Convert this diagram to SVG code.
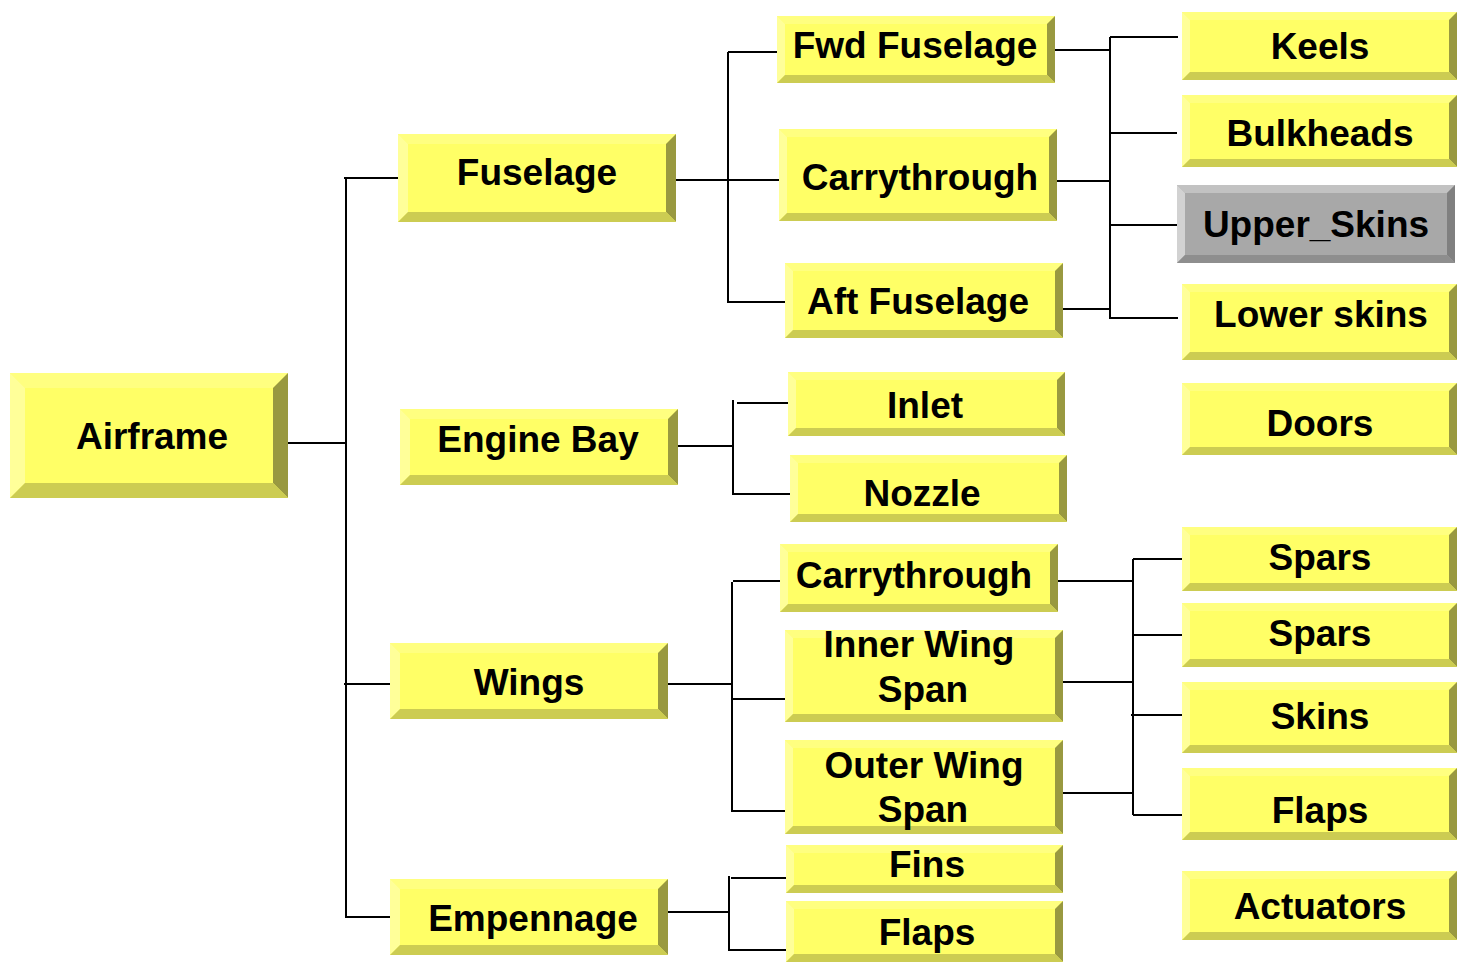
<svg xmlns="http://www.w3.org/2000/svg" width="1457" height="962" viewBox="0 0 1457 962">
<style>
.f{fill:#FFFF66}.t{fill:#FFFF80}.l{fill:#FFFF99}.r{fill:#999940}.b{fill:#CCCC52}
.gf{fill:#A8A8A8}.gt{fill:#C2C2C2}.gl{fill:#D2D2D2}.gr{fill:#808080}.gb{fill:#8E8E8E}
text{font-family:"Liberation Sans",Arial,sans-serif;font-weight:bold;font-size:37px;text-anchor:middle;fill:#000}
.c line{stroke:#000;stroke-width:2}
</style>
<rect width="1457" height="962" fill="#fff"/>
<g class="c" id="connectors">
<line x1="288" y1="443" x2="346" y2="443"/>
<line x1="346" y1="178" x2="346" y2="918"/>
<line x1="344" y1="178" x2="398" y2="178"/>
<line x1="344" y1="684" x2="390" y2="684"/>
<line x1="345" y1="917" x2="390" y2="917"/>
<line x1="676" y1="180" x2="779" y2="180"/>
<line x1="728" y1="52" x2="728" y2="303"/>
<line x1="728" y1="52" x2="777" y2="52"/>
<line x1="728" y1="302" x2="785" y2="302"/>
<line x1="678" y1="446" x2="733" y2="446"/>
<line x1="733" y1="400" x2="733" y2="493"/>
<line x1="737" y1="403" x2="788" y2="403"/>
<line x1="732" y1="494" x2="790" y2="494"/>
<line x1="668" y1="684" x2="733" y2="684"/>
<line x1="732" y1="582" x2="732" y2="812"/>
<line x1="733" y1="581" x2="780" y2="581"/>
<line x1="731" y1="699" x2="785" y2="699"/>
<line x1="731" y1="811" x2="785" y2="811"/>
<line x1="668" y1="912" x2="729" y2="912"/>
<line x1="729" y1="876" x2="729" y2="950"/>
<line x1="731" y1="878" x2="786" y2="878"/>
<line x1="728" y1="950" x2="786" y2="950"/>
<line x1="1055" y1="50" x2="1110" y2="50"/>
<line x1="1110" y1="37" x2="1110" y2="319"/>
<line x1="1110" y1="37" x2="1178" y2="37"/>
<line x1="1109" y1="133" x2="1177" y2="133"/>
<line x1="1110" y1="225" x2="1177" y2="225"/>
<line x1="1110" y1="318" x2="1178" y2="318"/>
<line x1="1057" y1="181" x2="1110" y2="181"/>
<line x1="1063" y1="309" x2="1110" y2="309"/>
<line x1="1133" y1="559" x2="1133" y2="815"/>
<line x1="1058" y1="581" x2="1133" y2="581"/>
<line x1="1133" y1="559" x2="1182" y2="559"/>
<line x1="1132" y1="635" x2="1182" y2="635"/>
<line x1="1063" y1="682" x2="1133" y2="682"/>
<line x1="1131" y1="715" x2="1182" y2="715"/>
<line x1="1063" y1="793" x2="1133" y2="793"/>
<line x1="1133" y1="815" x2="1182" y2="815"/>
</g>
<g id="airframe">
<rect class="f" x="10" y="373" width="278" height="125"/>
<polygon class="t" points="10,373 288,373 273,388 25,388"/>
<polygon class="l" points="10,373 25,388 25,483 10,498"/>
<polygon class="r" points="288,373 288,498 273,483 273,388"/>
<polygon class="b" points="10,498 25,483 273,483 288,498"/>
<text x="152" y="449">Airframe</text>
</g>
<g id="fuselage">
<rect class="f" x="398" y="134" width="278" height="88"/>
<polygon class="t" points="398,134 676,134 666,144 408,144"/>
<polygon class="l" points="398,134 408,144 408,212 398,222"/>
<polygon class="r" points="676,134 676,222 666,212 666,144"/>
<polygon class="b" points="398,222 408,212 666,212 676,222"/>
<text x="537" y="185">Fuselage</text>
</g>
<g id="engine-bay">
<rect class="f" x="400" y="409" width="278" height="76"/>
<polygon class="t" points="400,409 678,409 668,419 410,419"/>
<polygon class="l" points="400,409 410,419 410,475 400,485"/>
<polygon class="r" points="678,409 678,485 668,475 668,419"/>
<polygon class="b" points="400,485 410,475 668,475 678,485"/>
<text x="538" y="452">Engine Bay</text>
</g>
<g id="wings">
<rect class="f" x="390" y="643" width="278" height="76"/>
<polygon class="t" points="390,643 668,643 658,653 400,653"/>
<polygon class="l" points="390,643 400,653 400,709 390,719"/>
<polygon class="r" points="668,643 668,719 658,709 658,653"/>
<polygon class="b" points="390,719 400,709 658,709 668,719"/>
<text x="529" y="695">Wings</text>
</g>
<g id="empennage">
<rect class="f" x="390" y="879" width="278" height="76"/>
<polygon class="t" points="390,879 668,879 658,889 400,889"/>
<polygon class="l" points="390,879 400,889 400,945 390,955"/>
<polygon class="r" points="668,879 668,955 658,945 658,889"/>
<polygon class="b" points="390,955 400,945 658,945 668,955"/>
<text x="533" y="931">Empennage</text>
</g>
<g id="fwd-fuselage">
<rect class="f" x="777" y="16" width="278" height="67"/>
<polygon class="t" points="777,16 1055,16 1047,24 785,24"/>
<polygon class="l" points="777,16 785,24 785,75 777,83"/>
<polygon class="r" points="1055,16 1055,83 1047,75 1047,24"/>
<polygon class="b" points="777,83 785,75 1047,75 1055,83"/>
<text x="915" y="58">Fwd Fuselage</text>
</g>
<g id="carrythrough-fuselage">
<rect class="f" x="779" y="129" width="278" height="92"/>
<polygon class="t" points="779,129 1057,129 1049,137 787,137"/>
<polygon class="l" points="779,129 787,137 787,213 779,221"/>
<polygon class="r" points="1057,129 1057,221 1049,213 1049,137"/>
<polygon class="b" points="779,221 787,213 1049,213 1057,221"/>
<text x="920" y="190">Carrythrough</text>
</g>
<g id="aft-fuselage">
<rect class="f" x="785" y="263" width="278" height="75"/>
<polygon class="t" points="785,263 1063,263 1055,271 793,271"/>
<polygon class="l" points="785,263 793,271 793,330 785,338"/>
<polygon class="r" points="1063,263 1063,338 1055,330 1055,271"/>
<polygon class="b" points="785,338 793,330 1055,330 1063,338"/>
<text x="918" y="314">Aft Fuselage</text>
</g>
<g id="inlet">
<rect class="f" x="788" y="372" width="277" height="64"/>
<polygon class="t" points="788,372 1065,372 1057,380 796,380"/>
<polygon class="l" points="788,372 796,380 796,428 788,436"/>
<polygon class="r" points="1065,372 1065,436 1057,428 1057,380"/>
<polygon class="b" points="788,436 796,428 1057,428 1065,436"/>
<text x="925" y="418">Inlet</text>
</g>
<g id="nozzle">
<rect class="f" x="790" y="455" width="277" height="67"/>
<polygon class="t" points="790,455 1067,455 1059,463 798,463"/>
<polygon class="l" points="790,455 798,463 798,514 790,522"/>
<polygon class="r" points="1067,455 1067,522 1059,514 1059,463"/>
<polygon class="b" points="790,522 798,514 1059,514 1067,522"/>
<text x="922" y="506">Nozzle</text>
</g>
<g id="carrythrough-wing">
<rect class="f" x="780" y="544" width="278" height="68"/>
<polygon class="t" points="780,544 1058,544 1050,552 788,552"/>
<polygon class="l" points="780,544 788,552 788,604 780,612"/>
<polygon class="r" points="1058,544 1058,612 1050,604 1050,552"/>
<polygon class="b" points="780,612 788,604 1050,604 1058,612"/>
<text x="914" y="588">Carrythrough</text>
</g>
<g id="inner-wing-span">
<rect class="f" x="785" y="630" width="278" height="92"/>
<polygon class="t" points="785,630 1063,630 1055,638 793,638"/>
<polygon class="l" points="785,630 793,638 793,714 785,722"/>
<polygon class="r" points="1063,630 1063,722 1055,714 1055,638"/>
<polygon class="b" points="785,722 793,714 1055,714 1063,722"/>
<text x="919" y="657">Inner Wing</text>
<text x="923" y="702">Span</text>
</g>
<g id="outer-wing-span">
<rect class="f" x="785" y="740" width="278" height="94"/>
<polygon class="t" points="785,740 1063,740 1055,748 793,748"/>
<polygon class="l" points="785,740 793,748 793,826 785,834"/>
<polygon class="r" points="1063,740 1063,834 1055,826 1055,748"/>
<polygon class="b" points="785,834 793,826 1055,826 1063,834"/>
<text x="924" y="778">Outer Wing</text>
<text x="923" y="822">Span</text>
</g>
<g id="fins">
<rect class="f" x="786" y="845" width="277" height="48"/>
<polygon class="t" points="786,845 1063,845 1055,853 794,853"/>
<polygon class="l" points="786,845 794,853 794,885 786,893"/>
<polygon class="r" points="1063,845 1063,893 1055,885 1055,853"/>
<polygon class="b" points="786,893 794,885 1055,885 1063,893"/>
<text x="927" y="877">Fins</text>
</g>
<g id="flaps-empennage">
<rect class="f" x="786" y="901" width="277" height="61"/>
<polygon class="t" points="786,901 1063,901 1055,909 794,909"/>
<polygon class="l" points="786,901 794,909 794,954 786,962"/>
<polygon class="r" points="1063,901 1063,962 1055,954 1055,909"/>
<polygon class="b" points="786,962 794,954 1055,954 1063,962"/>
<text x="927" y="945">Flaps</text>
</g>
<g id="keels">
<rect class="f" x="1182" y="12" width="275" height="68"/>
<polygon class="t" points="1182,12 1457,12 1449,20 1190,20"/>
<polygon class="l" points="1182,12 1190,20 1190,72 1182,80"/>
<polygon class="r" points="1457,12 1457,80 1449,72 1449,20"/>
<polygon class="b" points="1182,80 1190,72 1449,72 1457,80"/>
<text x="1320" y="59">Keels</text>
</g>
<g id="bulkheads">
<rect class="f" x="1182" y="95" width="275" height="72"/>
<polygon class="t" points="1182,95 1457,95 1449,103 1190,103"/>
<polygon class="l" points="1182,95 1190,103 1190,159 1182,167"/>
<polygon class="r" points="1457,95 1457,167 1449,159 1449,103"/>
<polygon class="b" points="1182,167 1190,159 1449,159 1457,167"/>
<text x="1320" y="146">Bulkheads</text>
</g>
<g id="upper-skins">
<rect class="gf" x="1177" y="185" width="278" height="78"/>
<polygon class="gt" points="1177,185 1455,185 1447,193 1185,193"/>
<polygon class="gl" points="1177,185 1185,193 1185,255 1177,263"/>
<polygon class="gr" points="1455,185 1455,263 1447,255 1447,193"/>
<polygon class="gb" points="1177,263 1185,255 1447,255 1455,263"/>
<text x="1316" y="237">Upper_Skins</text>
</g>
<g id="lower-skins">
<rect class="f" x="1182" y="284" width="275" height="76"/>
<polygon class="t" points="1182,284 1457,284 1449,292 1190,292"/>
<polygon class="l" points="1182,284 1190,292 1190,352 1182,360"/>
<polygon class="r" points="1457,284 1457,360 1449,352 1449,292"/>
<polygon class="b" points="1182,360 1190,352 1449,352 1457,360"/>
<text x="1321" y="327">Lower skins</text>
</g>
<g id="doors">
<rect class="f" x="1182" y="383" width="275" height="72"/>
<polygon class="t" points="1182,383 1457,383 1449,391 1190,391"/>
<polygon class="l" points="1182,383 1190,391 1190,447 1182,455"/>
<polygon class="r" points="1457,383 1457,455 1449,447 1449,391"/>
<polygon class="b" points="1182,455 1190,447 1449,447 1457,455"/>
<text x="1320" y="436">Doors</text>
</g>
<g id="spars-1">
<rect class="f" x="1182" y="527" width="275" height="64"/>
<polygon class="t" points="1182,527 1457,527 1449,535 1190,535"/>
<polygon class="l" points="1182,527 1190,535 1190,583 1182,591"/>
<polygon class="r" points="1457,527 1457,591 1449,583 1449,535"/>
<polygon class="b" points="1182,591 1190,583 1449,583 1457,591"/>
<text x="1320" y="570">Spars</text>
</g>
<g id="spars-2">
<rect class="f" x="1182" y="603" width="275" height="64"/>
<polygon class="t" points="1182,603 1457,603 1449,611 1190,611"/>
<polygon class="l" points="1182,603 1190,611 1190,659 1182,667"/>
<polygon class="r" points="1457,603 1457,667 1449,659 1449,611"/>
<polygon class="b" points="1182,667 1190,659 1449,659 1457,667"/>
<text x="1320" y="646">Spars</text>
</g>
<g id="skins">
<rect class="f" x="1182" y="682" width="275" height="71"/>
<polygon class="t" points="1182,682 1457,682 1449,690 1190,690"/>
<polygon class="l" points="1182,682 1190,690 1190,745 1182,753"/>
<polygon class="r" points="1457,682 1457,753 1449,745 1449,690"/>
<polygon class="b" points="1182,753 1190,745 1449,745 1457,753"/>
<text x="1320" y="729">Skins</text>
</g>
<g id="flaps-wing">
<rect class="f" x="1182" y="768" width="275" height="72"/>
<polygon class="t" points="1182,768 1457,768 1449,776 1190,776"/>
<polygon class="l" points="1182,768 1190,776 1190,832 1182,840"/>
<polygon class="r" points="1457,768 1457,840 1449,832 1449,776"/>
<polygon class="b" points="1182,840 1190,832 1449,832 1457,840"/>
<text x="1320" y="823">Flaps</text>
</g>
<g id="actuators">
<rect class="f" x="1182" y="871" width="275" height="69"/>
<polygon class="t" points="1182,871 1457,871 1449,879 1190,879"/>
<polygon class="l" points="1182,871 1190,879 1190,932 1182,940"/>
<polygon class="r" points="1457,871 1457,940 1449,932 1449,879"/>
<polygon class="b" points="1182,940 1190,932 1449,932 1457,940"/>
<text x="1320" y="919">Actuators</text>
</g>
</svg>
